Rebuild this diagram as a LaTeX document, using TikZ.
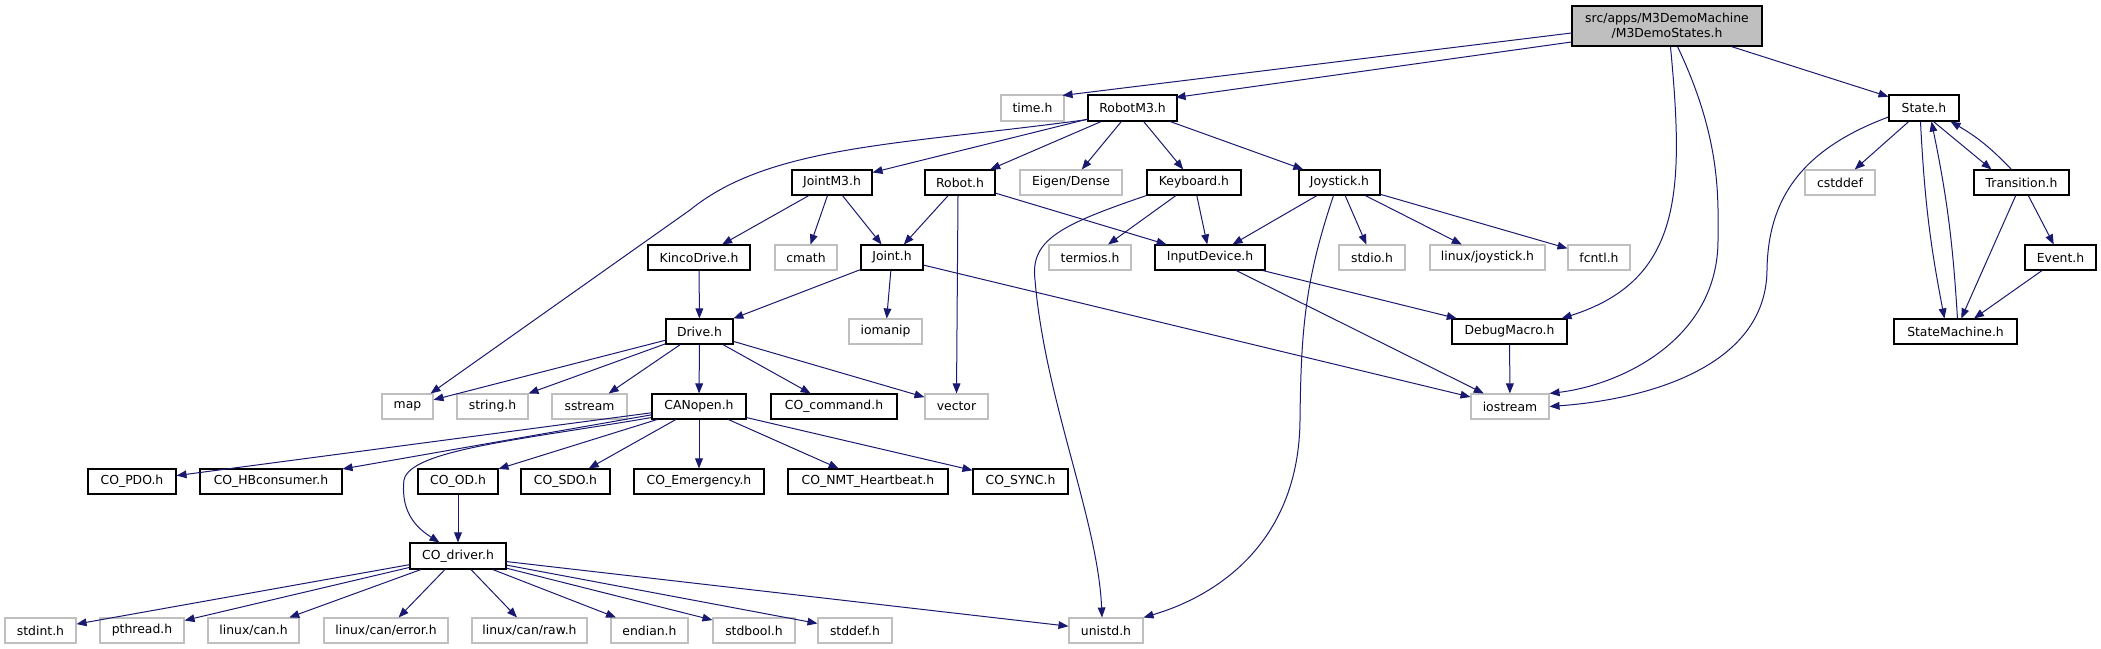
\documentclass[tikz,border=0pt]{standalone}
\usepackage{fontspec}
\newfontfamily\dvs{DejaVu Sans}
\usetikzlibrary{arrows.meta,calc}
\definecolor{edgeblue}{HTML}{191970}
\definecolor{greyb}{HTML}{BFBFBF}
\newcommand\dfont{\dvs\fontsize{9.3}{11.5}\selectfont}
\newcommand\dn[7][doc]{\node[#1,minimum width={(#5-#3)*0.75pt},minimum height={(#6-#4)*0.75pt}] (#2) at ({(#3+#5)/2},{(#4+#6)/2}) {#7};}
\tikzset{
  doc/.style={draw=black,line width=0.8pt,fill=white,inner sep=0pt,font=\dfont},
  ext/.style={draw=greyb,line width=0.8pt,fill=white,inner sep=0pt,font=\dfont},
  mainn/.style={doc,fill=greyb,align=center},
  edge/.style={draw=edgeblue,line width=0.75pt,-{Triangle[length=7.5pt,width=5.8pt]}}
}
\begin{document}
\begin{tikzpicture}[x=0.75pt,y=-0.75pt]
\useasboundingbox (0,0) rectangle (2101,649);
% row 0
\dn[mainn]{main}{1572}{6}{1762}{46}{src/apps/M3DemoMachine\\/M3DemoStates.h}
% row 1
\dn[ext]{timeh}{1001}{95}{1064}{121}{time.h}
\dn{robotm3}{1088}{95}{1177}{121}{RobotM3.h}
\dn{state}{1889}{95}{1959}{121}{State.h}
% row 2
\dn{jointm3}{792}{170}{872}{195}{JointM3.h}
\dn{roboth}{925}{170}{995}{195}{Robot.h}
\dn[ext]{eigen}{1020}{170}{1122}{195}{Eigen/Dense}
\dn{keyboard}{1147}{170}{1241}{195}{Keyboard.h}
\dn{joystick}{1299}{170}{1380}{195}{Joystick.h}
\dn[ext]{cstddef}{1805}{170}{1875}{195}{cstddef}
\dn{transition}{1974}{170}{2069}{195}{Transition.h}
% row 3
\dn{kinco}{648}{245}{750}{270}{KincoDrive.h}
\dn[ext]{cmath}{775}{245}{837}{270}{cmath}
\dn{joint}{861}{245}{923}{270}{Joint.h}
\dn[ext]{termios}{1049}{245}{1131}{270}{termios.h}
\dn{inputdev}{1155}{245}{1265}{270}{InputDevice.h}
\dn[ext]{stdio}{1339}{245}{1405}{270}{stdio.h}
\dn[ext]{linjoy}{1430}{245}{1545}{270}{linux/joystick.h}
\dn[ext]{fcntl}{1568}{245}{1630}{270}{fcntl.h}
\dn{event}{2025}{245}{2096}{270}{Event.h}
% row 4
\dn{drive}{666}{319}{733}{344}{Drive.h}
\dn[ext]{iomanip}{849}{319}{922}{344}{iomanip}
\dn{debugm}{1452}{319}{1567}{344}{DebugMacro.h}
\dn{statem}{1894}{319}{2017}{344}{StateMachine.h}
% row 5
\dn[ext]{map}{382}{394}{433}{419}{map}
\dn[ext]{stringh}{457}{394}{528}{419}{string.h}
\dn[ext]{sstream}{552}{394}{627}{419}{sstream}
\dn{canopen}{652}{394}{746}{419}{CANopen.h}
\dn{cocmd}{771}{394}{897}{419}{CO\_command.h}
\dn[ext]{vector}{925}{394}{988}{419}{vector}
\dn[ext]{iostream}{1471}{394}{1549}{419}{iostream}
% row 6
\dn{copdo}{88}{469}{176}{494}{CO\_PDO.h}
\dn{cohb}{200}{469}{342}{494}{CO\_HBconsumer.h}
\dn{cood}{418}{469}{498}{494}{CO\_OD.h}
\dn{cosdo}{521}{469}{610}{494}{CO\_SDO.h}
\dn{coemg}{634}{469}{764}{494}{CO\_Emergency.h}
\dn{conmt}{788}{469}{948}{494}{CO\_NMT\_Heartbeat.h}
\dn{cosync}{973}{469}{1068}{494}{CO\_SYNC.h}
% row 7
\dn{codriver}{410}{543}{506}{569}{CO\_driver.h}
% row 8
\dn[ext]{stdint}{5}{618}{76}{643}{stdint.h}
\dn[ext]{pthread}{100}{618}{184}{643}{pthread.h}
\dn[ext]{lincan}{208}{618}{299}{643}{linux/can.h}
\dn[ext]{canerr}{324}{618}{448}{643}{linux/can/error.h}
\dn[ext]{canraw}{472}{618}{587}{643}{linux/can/raw.h}
\dn[ext]{endian}{611}{618}{688}{643}{endian.h}
\dn[ext]{stdbool}{713}{618}{795}{643}{stdbool.h}
\dn[ext]{stddef}{818}{618}{892}{643}{stddef.h}
\dn[ext]{unistd}{1069}{618}{1143}{643}{unistd.h}

% edges from main
\draw[edge] ($(main.west)+(0,7)$) -- ($(timeh.north east)+(-2,1)$);
\draw[edge] ($(main.west)+(0,16)$) -- ($(robotm3.north east)+(-2,3)$);
\draw[edge] (main) -- (state);
\draw[edge] ($(main.south west)+(99,0)$) .. controls (1684,190) and (1683,280) .. ($(debugm.north east)+(-6,0)$);
\draw[edge] ($(main.south west)+(106,0)$) .. controls (1722,140) and (1718,200) .. (1718,240) .. controls (1718,340) and (1620,385) .. (iostream.north east);
% RobotM3
\draw[edge] ($(robotm3.south west)+(0,-2)$) .. controls (900,145) and (770,145) .. (690,210) -- ($(map.north east)+(-3,0)$);
\draw[edge] (robotm3) -- (jointm3);
\draw[edge] (robotm3) -- (roboth);
\draw[edge] (robotm3) -- (eigen);
\draw[edge] (robotm3) -- (keyboard);
\draw[edge] (robotm3) -- (joystick);
% JointM3
\draw[edge] (jointm3) -- (kinco);
\draw[edge] (jointm3) -- (cmath);
\draw[edge] (jointm3) -- (joint);
% Robot.h
\draw[edge] (roboth) -- (joint);
\draw[edge] ($(roboth.south)+(-2,0)$) -- (vector.north);
\draw[edge] (roboth) -- (inputdev);
% Keyboard
\draw[edge] (keyboard.south west) .. controls (1060,225) and (1030,240) .. (1035,280) .. controls (1045,400) and (1098,520) .. ($(unistd.north)+(-4,0)$);
\draw[edge] (keyboard) -- (termios);
\draw[edge] (keyboard) -- (inputdev);
% Joystick
\draw[edge] (joystick) -- (inputdev);
\draw[edge] ($(joystick.south)+(-6,0)$) .. controls (1305,280) and (1301,330) .. (1300,420) .. controls (1299,540) and (1220,595) .. (unistd.north east);
\draw[edge] (joystick) -- (stdio);
\draw[edge] (joystick) -- (linjoy);
\draw[edge] (joystick) -- (fcntl);
% Kinco, Joint
\draw[edge] (kinco) -- (drive);
\draw[edge] (joint) -- (drive);
\draw[edge] (joint) -- (iomanip);
\draw[edge] (joint) -- (iostream);
% InputDevice, DebugMacro
\draw[edge] (inputdev) -- (debugm);
\draw[edge] (inputdev) -- (iostream);
\draw[edge] (debugm) -- (iostream);
% State machine cluster
\draw[edge] ($(state.west)+(0,9)$) .. controls (1800,150) and (1768,200) .. (1767,270) .. controls (1766,370) and (1640,400) .. (iostream.east);
\draw[edge] (state) -- (cstddef);
\draw[edge] ($(state.south west)+(45,0)$) -- ($(transition.north west)+(18,0)$);
\draw[edge] ($(transition.north west)+(38,0)$) to[bend right=8] ($(state.south east)+(-9,0)$);
\draw[edge] ($(state.south west)+(32,0)$) to[bend right=4] ($(statem.north west)+(51,0)$);
\draw[edge] ($(statem.north west)+(64,0)$) to[bend right=4] ($(state.south west)+(43,0)$);
\draw[edge] (transition) -- (statem);
\draw[edge] (transition) -- (event);
\draw[edge] (event) -- (statem);
% Drive
\draw[edge] (drive) -- (map);
\draw[edge] (drive) -- (stringh);
\draw[edge] (drive) -- (sstream);
\draw[edge] (drive) -- (canopen);
\draw[edge] (drive) -- (cocmd);
\draw[edge] (drive) -- (vector);
% CANopen
\draw[edge] (canopen) -- (copdo);
\draw[edge] (canopen) -- (cohb);
\draw[edge] ($(canopen.south west)+(0,-2)$) .. controls (520,440) and (410,450) .. (404,480) .. controls (400,515) and (420,530) .. ($(codriver.north west)+(30,0)$);
\draw[edge] (canopen) -- (cood);
\draw[edge] (canopen) -- (cosdo);
\draw[edge] (canopen) -- (coemg);
\draw[edge] (canopen) -- (conmt);
\draw[edge] (canopen) -- (cosync);
\draw[edge] (cood) -- (codriver);
% CO_driver
\draw[edge] (codriver) -- (stdint);
\draw[edge] (codriver) -- (pthread);
\draw[edge] (codriver) -- (lincan);
\draw[edge] (codriver) -- (canerr);
\draw[edge] (codriver) -- (canraw);
\draw[edge] (codriver) -- (endian);
\draw[edge] (codriver) -- (stdbool);
\draw[edge] (codriver) -- (stddef);
\draw[edge] (codriver) -- (unistd);
\end{tikzpicture}
\end{document}
